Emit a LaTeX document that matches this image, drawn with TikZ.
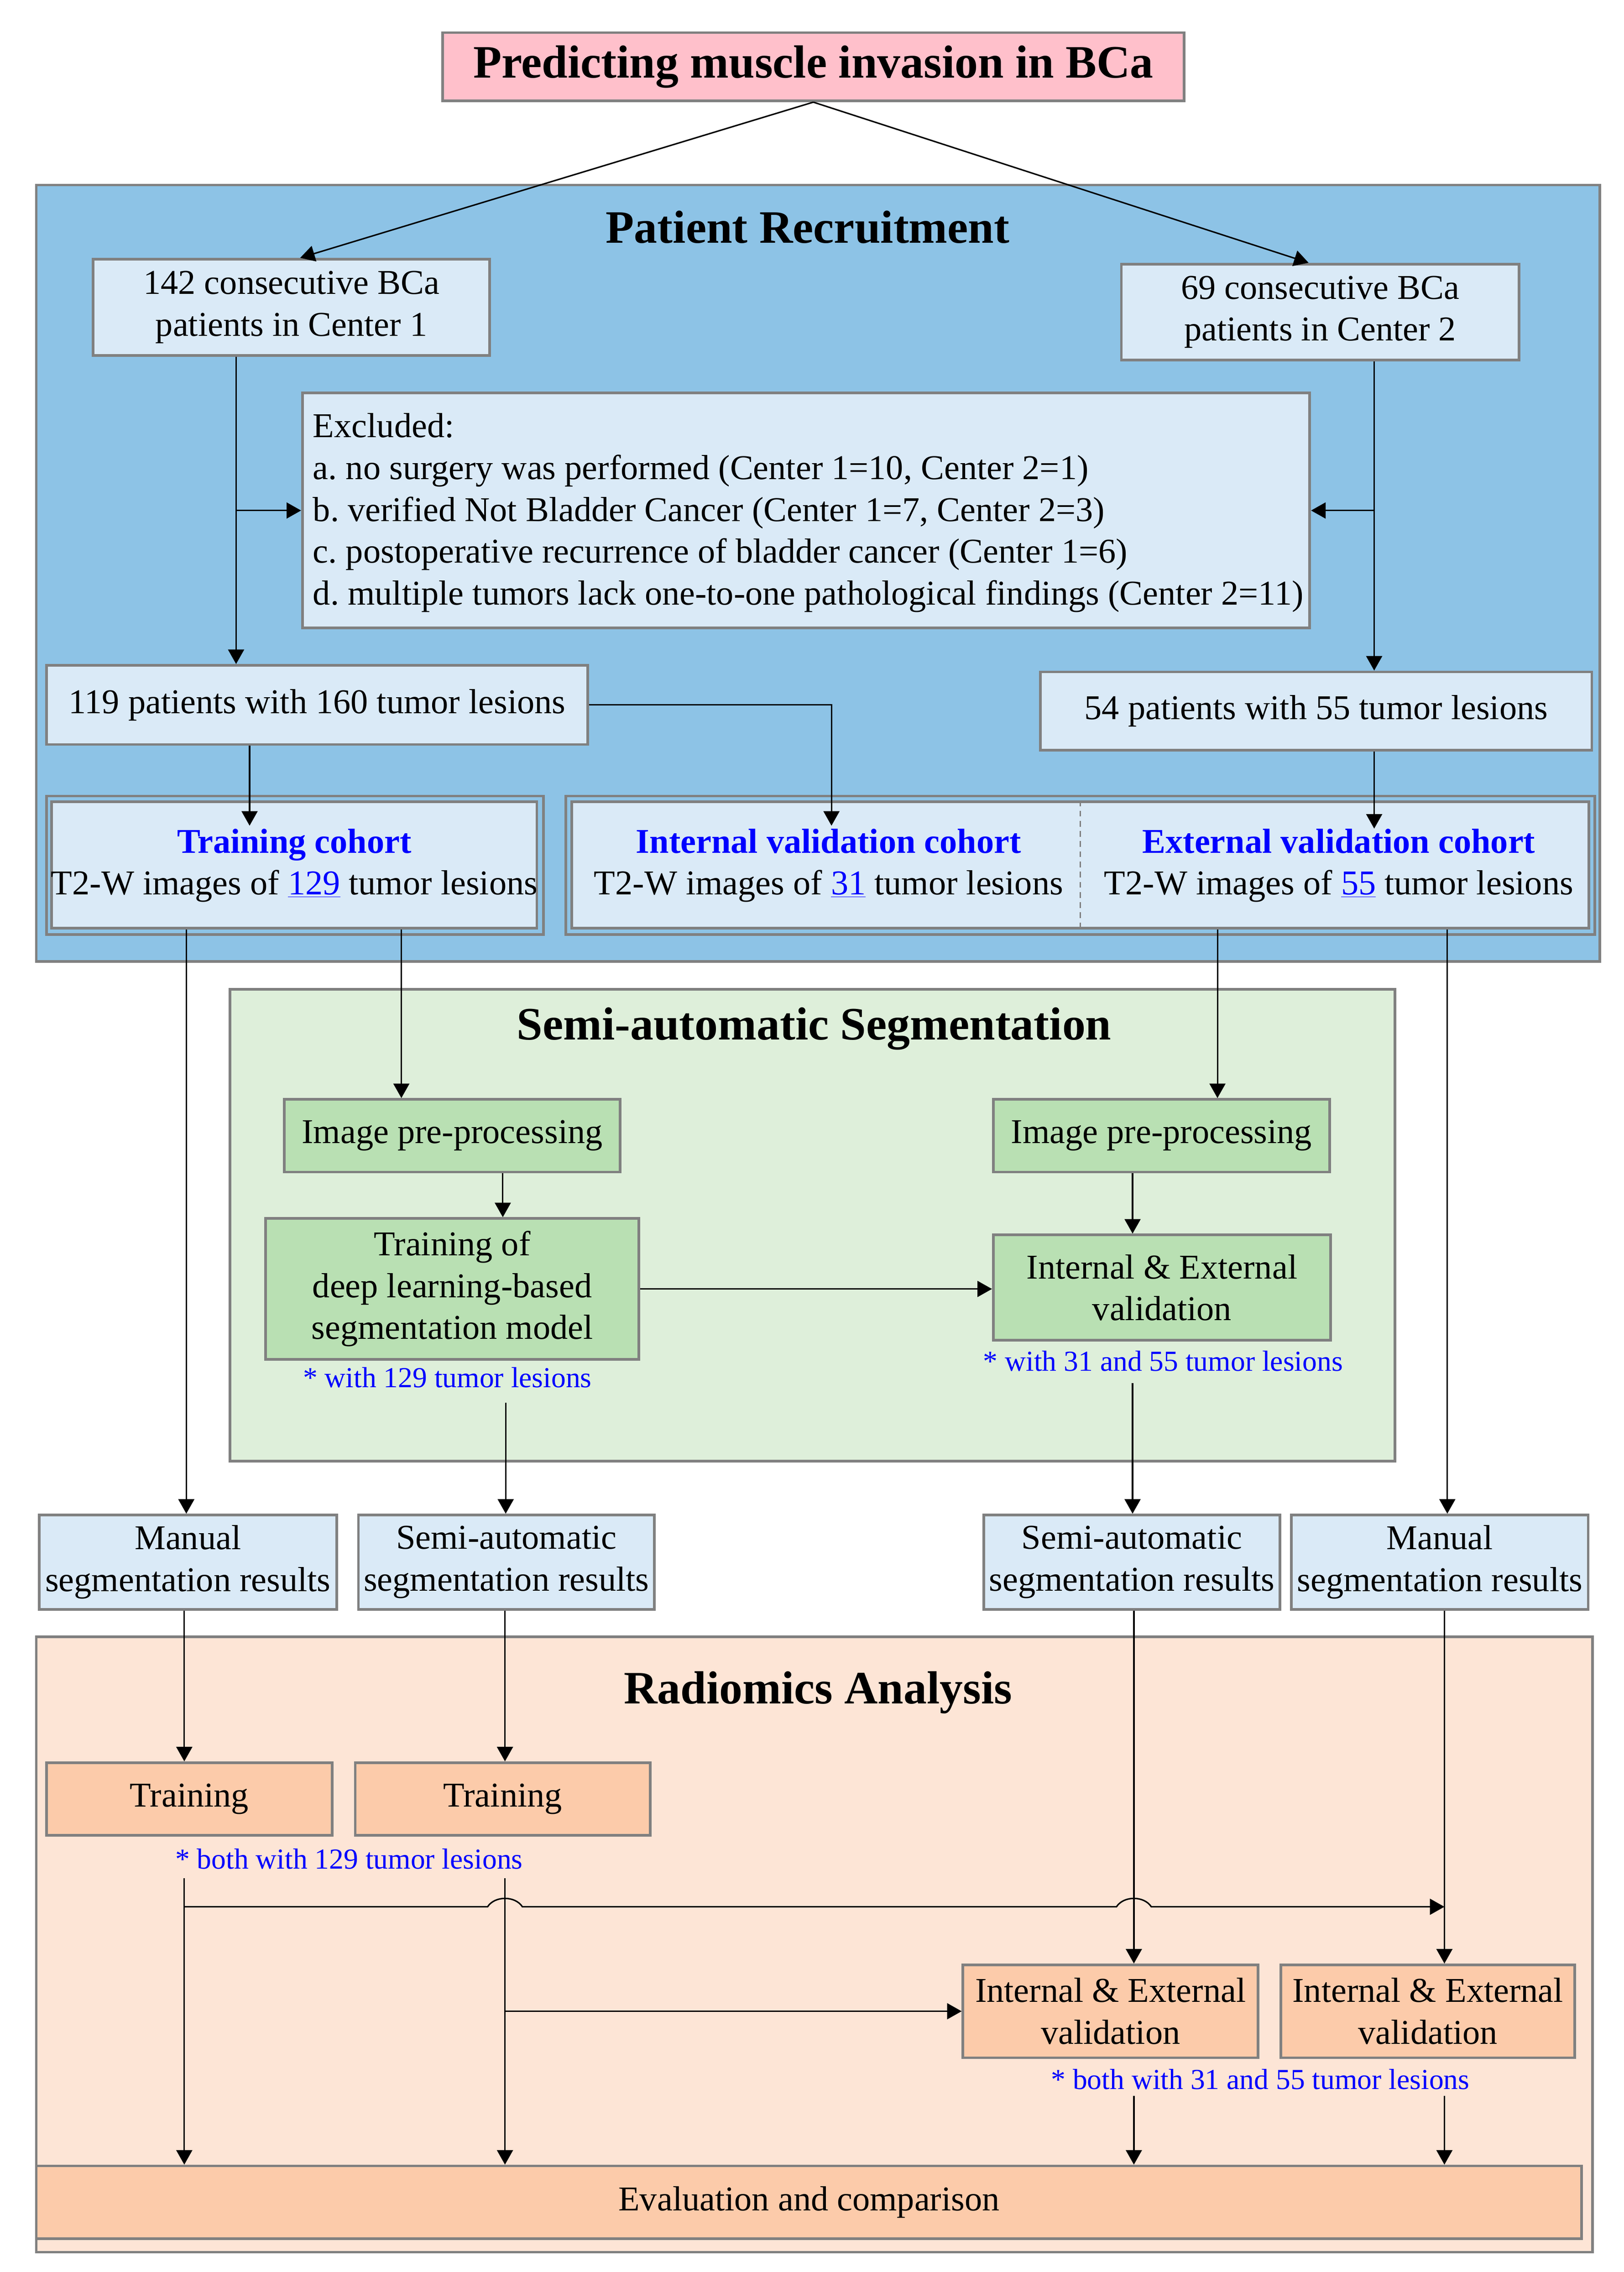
\documentclass[tikz,border=0pt]{standalone}
\usepackage{fontspec}
\setmainfont{Liberation Serif}
\usetikzlibrary{arrows.meta,calc}
\definecolor{pinkc}{RGB}{255,192,203}
\definecolor{prblue}{RGB}{141,195,230}
\definecolor{lightb}{RGB}{218,234,247}
\definecolor{segp}{RGB}{222,239,218}
\definecolor{greenb}{RGB}{185,224,179}
\definecolor{radp}{RGB}{253,229,214}
\definecolor{orangeb}{RGB}{252,203,170}
\definecolor{bordergray}{RGB}{128,128,128}
\newcommand{\bodyfont}{\fontsize{24}{28.8}\selectfont}
\newcommand{\notefont}{\fontsize{20}{24}\selectfont}
\newcommand{\headfont}{\fontsize{32}{38}\selectfont\bfseries}
\newcommand{\boxat}[7]{\node[#2, minimum width={#5-#3}, minimum height={#6-#4}] (#1) at ({(#3+#5)/2},{(#4+#6)/2}) {#7};}
\frenchspacing
\begin{document}
\frenchspacing
\begin{tikzpicture}[x=1pt,y=-1pt,
  panel/.style={draw=bordergray,line width=1.8pt,inner sep=0pt},
  box/.style={draw=bordergray,line width=1.8pt,inner sep=0pt,align=center,font=\bodyfont},
  lbox/.style={box,fill=lightb},
  gbox/.style={box,fill=greenb},
  obox/.style={box,fill=orangeb},
  couter/.style={draw=bordergray,line width=1.8pt,inner sep=0pt},
  txt/.style={font=\bodyfont,align=center,inner sep=0pt},
  head/.style={font=\headfont,inner sep=0pt},
  note/.style={font=\notefont,text=blue,inner sep=0pt},
  arr/.style={line width=1pt,-{Triangle[length=10pt,width=11pt]}},
  ln/.style={line width=1pt}]
\useasboundingbox (0,0) rectangle (1118.9,1565.7);
\fill[white] (0,0) rectangle (1118.9,1565.7);

% ---------- panels
\boxat{prpanel}{panel,fill=prblue}{25}{127.5}{1102.5}{662.6}{}
\node[head] (prtitle) at (556.6,156.5) {Patient Recruitment};
\boxat{segpanel}{panel,fill=segp}{158.4}{681.8}{961.4}{1007}{}
\node[head] (segtitle) at (561,708.9) {Semi-automatic Segmentation};
\boxat{radpanel}{panel,fill=radp}{25}{1128}{1097.5}{1552}{}
\node[head] (radtitle) at (563.7,1166.5) {Radiomics Analysis};

% ---------- boxes
\boxat{title}{box,fill=pinkc,font=\headfont}{305}{22.5}{816}{69.5}{Predicting muscle invasion in BCa}
\boxat{c1}{lbox}{64.2}{178.6}{337.5}{245}{142 consecutive BCa\\patients in Center 1}
\boxat{c2}{lbox}{772.8}{182}{1046.8}{248}{69 consecutive BCa\\patients in Center 2}
\boxat{excl}{lbox}{208.4}{270.8}{902.6}{432.8}{}
\node[txt,align=left,anchor=west] (exclT) at (215.5,353.4) {Excluded:\\a. no surgery was performed (Center 1=10, Center 2=1)\\b. verified Not Bladder Cancer (Center 1=7, Center 2=3)\\c. postoperative recurrence of bladder cancer (Center 1=6)\\d. multiple tumors lack one-to-one pathological findings (Center 2=11)};
\boxat{p1}{lbox}{32}{458.5}{405}{513}{119 patients with 160 tumor lesions}
\boxat{p2}{lbox}{717}{463}{1097}{517}{54 patients with 55 tumor lesions}

\boxat{trO}{couter}{32}{548.6}{374.6}{644}{}
\boxat{trI}{lbox}{35.6}{552.6}{370}{639.6}{}
\boxat{vaO}{couter}{390}{548.6}{1099}{644}{}
\boxat{vaI}{lbox}{394}{552.6}{1095}{639.6}{}
\coordinate (xd) at (744.5,0);
\draw[bordergray,line width=1pt,dash pattern=on 4pt off 3pt] (vaI.north -| xd) -- (vaI.south -| xd);
\node[txt] (trT) at (202.8,596.4) {\textcolor{blue}{\textbf{Training cohort}}\\T2-W images of \textcolor{blue}{\underline{129}} tumor lesions};
\node[txt] (inT) at (571,596.4) {\textcolor{blue}{\textbf{Internal validation cohort}}\\T2-W images of \textcolor{blue}{\underline{31}} tumor lesions};
\node[txt] (exT) at (922.6,596.4) {\textcolor{blue}{\textbf{External validation cohort}}\\T2-W images of \textcolor{blue}{\underline{55}} tumor lesions};

\boxat{ipp1}{gbox}{196}{757.6}{427.3}{807.7}{Image pre-processing}
\boxat{ipp2}{gbox}{684.5}{757.6}{916.4}{807.7}{Image pre-processing}
\boxat{tm}{gbox}{183}{839.7}{440.3}{936.8}{Training of\\deep learning-based\\segmentation model}
\boxat{ie0}{gbox}{684.5}{851}{917}{923.6}{Internal \& External\\validation}
\node[note] (n1) at (308.3,949.4) {* with 129 tumor lesions};
\node[note] (n2) at (801.5,938) {* with 31 and 55 tumor lesions};

\boxat{m1}{lbox}{27}{1044}{232}{1109}{Manual\\segmentation results}
\boxat{s1}{lbox}{247}{1044}{451}{1109}{Semi-automatic\\segmentation results}
\boxat{s2}{lbox}{678}{1044}{882}{1109}{Semi-automatic\\segmentation results}
\boxat{m2}{lbox}{890}{1044}{1094.5}{1109}{Manual\\segmentation results}

\boxat{tr1}{obox}{32}{1214.7}{229}{1264.8}{Training}
\boxat{tr2}{obox}{244.8}{1214.7}{448}{1264.8}{Training}
\node[note] (n3) at (240.5,1281) {* both with 129 tumor lesions};
\boxat{ie1}{obox}{663.6}{1354}{867}{1418}{Internal \& External\\validation}
\boxat{ie2}{obox}{882.7}{1354}{1085.3}{1418}{Internal \& External\\validation}
\node[note] (n4) at (868.5,1433) {* both with 31 and 55 tumor lesions};
\boxat{ev}{obox}{25}{1492.6}{1090}{1542.8}{Evaluation and comparison}

% ---------- helper coordinates
\coordinate (xa) at (162.7,0);
\coordinate (xb) at (947,0);
\coordinate (xc) at (172,0);
\coordinate (xi) at (573,0);
\coordinate (tipy) at (0,569);
\coordinate (x128) at (128.4,0);
\coordinate (x276) at (276.6,0);
\coordinate (x839) at (839,0);
\coordinate (x997) at (997.4,0);
\coordinate (x346) at (346.5,0);
\coordinate (x780) at (780.5,0);
\coordinate (x348) at (348.5,0);
\coordinate (r127) at (127,0);
\coordinate (r348) at (348,0);
\coordinate (r781) at (781.4,0);
\coordinate (r995) at (995.4,0);
\coordinate (hy) at (0,1314);

% ---------- connectors
\draw[arr] (title.south) -- ([xshift=6pt]c1.north);
\draw[arr] (title.south) -- ([xshift=-8pt]c2.north);
\draw[arr] (c1.south -| xa) -- (p1.north -| xa);
\draw[arr] (excl.west -| xa) -- (excl.west);
\draw[arr] (c2.south -| xb) -- (p2.north -| xb);
\draw[arr] (excl.east -| xb) -- (excl.east);
\draw[arr] (p1.south -| xc) -- (xc |- tipy);
\draw[arr] (p1.east) -| (xi |- tipy);
\draw[arr] (p2.south -| xb) -- ($(xb |- tipy)+(0,2)$);

\draw[arr] (trI.south -| x128) -- (m1.north -| x128);
\draw[arr] (trI.south -| x276) -- (ipp1.north -| x276);
\draw[arr] (vaI.south -| x839) -- (ipp2.north -| x839);
\draw[arr] (vaI.south -| x997) -- (m2.north -| x997);
\draw[arr] (ipp1.south -| x346) -- (tm.north -| x346);
\draw[arr] (ipp2.south -| x780) -- (ie0.north -| x780);
\draw[arr] (tm.east) -- (tm.east -| ie0.west);
\draw[arr] ($(n1.south -| x348)+(0,10)$) -- (s1.north -| x348);
\draw[arr] ($(n2.south -| x780)+(0,8)$) -- (s2.north -| x780);

\draw[arr] (m1.south -| r127) -- (tr1.north -| r127);
\draw[arr] (s1.south -| r348) -- (tr2.north -| r348);
\draw[arr] (s2.south -| r781) -- (ie1.north -| r781);
\draw[arr] (m2.south -| r995) -- (ie2.north -| r995);
\draw[arr] ($(n3.south -| r127)+(0,6)$) -- (ev.north -| r127);
\draw[arr] ($(n3.south -| r348)+(0,6)$) -- (ev.north -| r348);
\draw[arr] ($(n4.south -| r781)+(0,4)$) -- (ev.north -| r781);
\draw[arr] ($(n4.south -| r995)+(0,4)$) -- (ev.north -| r995);

\coordinate (j1) at (r348 |- hy);
\coordinate (j2) at (r781 |- hy);
\draw[arr] (r127 |- hy) -- ($(j1)+(-12,0)$) .. controls ($(j1)+(-7,-7.7)$) and ($(j1)+(7,-7.7)$) .. ($(j1)+(12,0)$)
  -- ($(j2)+(-12,0)$) .. controls ($(j2)+(-7,-7.7)$) and ($(j2)+(7,-7.7)$) .. ($(j2)+(12,0)$)
  -- (r995 |- hy);
\draw[arr] (r348 |- ie1.west) -- (ie1.west);
\end{tikzpicture}
\end{document}
